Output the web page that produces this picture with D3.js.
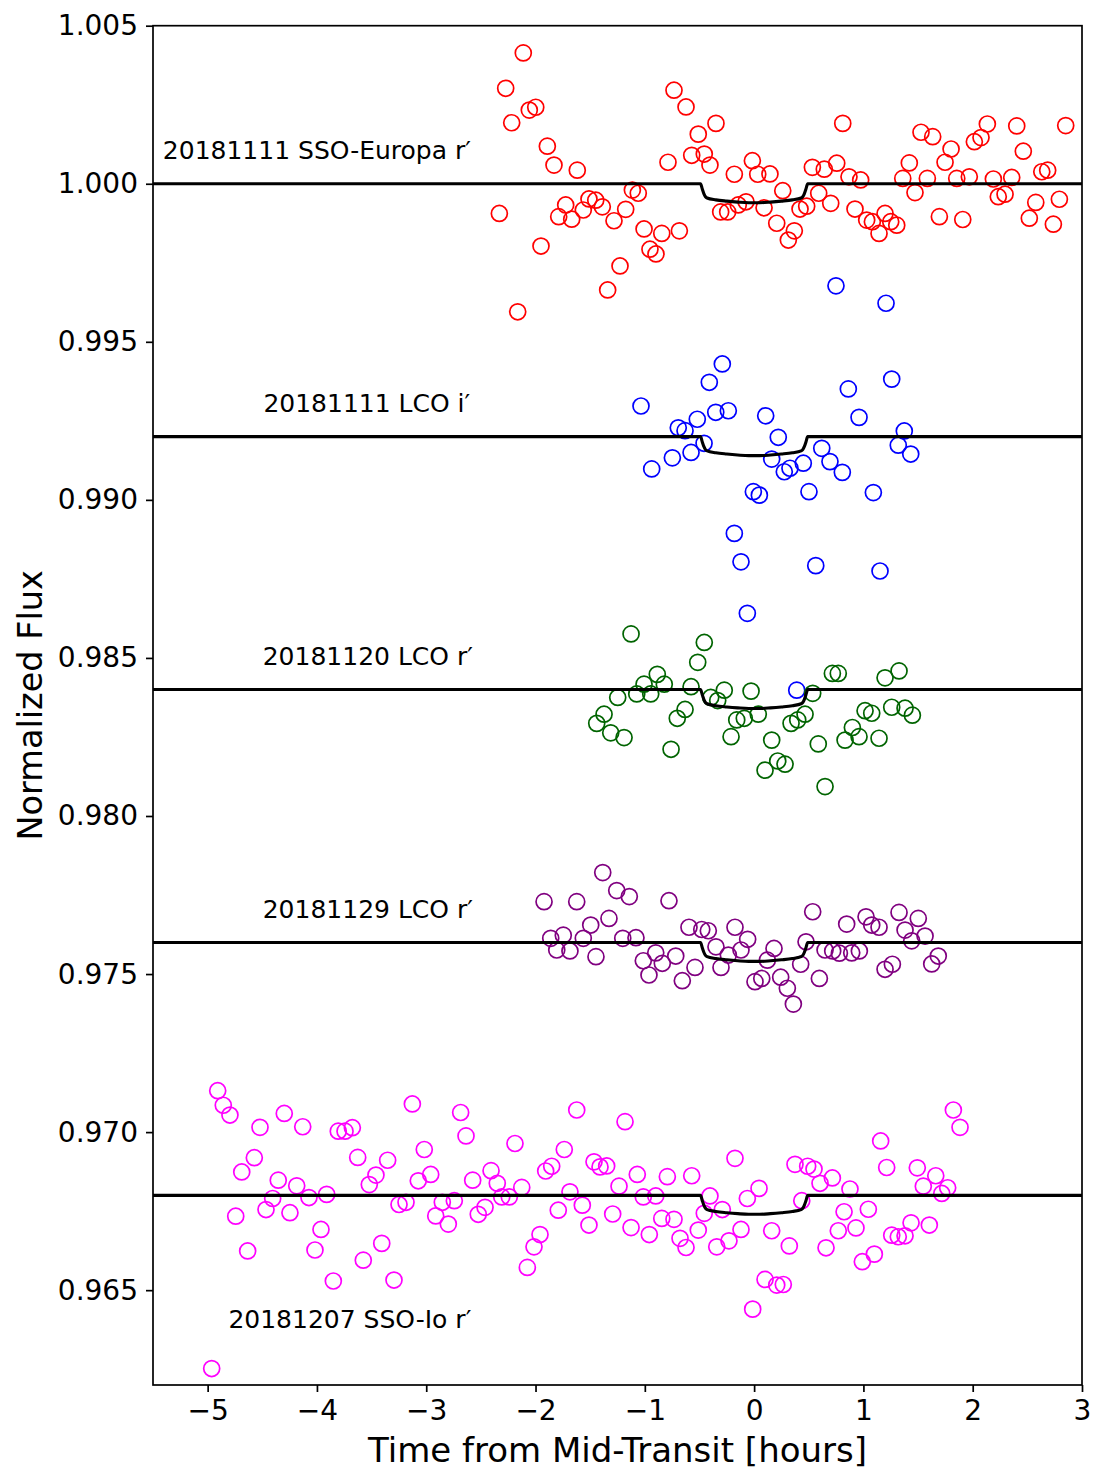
<!DOCTYPE html>
<head>
  <meta charset="utf-8">
  <script src="https://d3js.org/d3.v7.min.js"></script>
  <style>
    body { margin: 0; background: #fff; }
    text { font-family: "DejaVu Sans", sans-serif; fill: #000; }
  </style>
</head>

<body>
  <div id="chart"></div>
  <script>
    // time from mid-transit [h] and normalized flux
    var europaT = [-2.331, -2.273, -2.218, -2.163, -2.112, -2.057, -1.998, -1.950, -1.892, -1.831,
      -1.788, -1.724, -1.669, -1.618, -1.563, -1.511, -1.449, -1.389, -1.340, -1.282,
      -1.227, -1.175, -1.114, -1.060, -1.007, -0.953, -0.898, -0.845, -0.788, -0.733,
      -0.684, -0.623, -0.571, -0.511, -0.456, -0.404, -0.349, -0.306, -0.242, -0.181,
      -0.145, -0.074, -0.016, 0.033, 0.091, 0.145, 0.207, 0.262, 0.313, 0.368,
      0.420, 0.481, 0.533, 0.591, 0.642, 0.701, 0.756, 0.811, 0.868, 0.923,
      0.975, 1.030, 1.082, 1.143, 1.198, 1.250, 1.305, 1.360, 1.420, 1.472,
      1.527, 1.585, 1.634, 1.695, 1.747, 1.802, 1.854, 1.909, 1.969, 2.015,
      2.076, 2.134, 2.189, 2.234, 2.296, 2.357, 2.403, 2.463, 2.518, 2.577,
      2.632, 2.686, 2.738, 2.793, 2.851];
    var europaF = [0.99906, 1.00302, 1.00193, 0.99595, 1.00414, 1.00233, 1.00242, 0.99803, 1.00119, 1.00059,
      0.99896, 0.99933, 0.99888, 1.00043, 0.99917, 0.99952, 0.99948, 0.99927, 0.99664, 0.99883,
      0.99740, 0.99919, 0.99980, 0.99970, 0.99857, 0.99793, 0.99778, 0.99843, 1.00068, 1.00296,
      0.99851, 1.00243, 1.00090, 1.00157, 1.00094, 1.00059, 1.00191, 0.99911, 0.99911, 1.00030,
      0.99933, 0.99943, 1.00073, 1.00030, 0.99924, 1.00031, 0.99875, 0.99978, 0.99822, 0.99851,
      0.99920, 0.99929, 1.00052, 0.99970, 1.00046, 0.99938, 1.00065, 1.00191, 1.00022, 0.99920,
      1.00012, 0.99885, 0.99880, 0.99843, 0.99906, 0.99880, 0.99869, 1.00017, 1.00066, 0.99972,
      1.00163, 1.00017, 1.00149, 0.99896, 1.00068, 1.00110, 1.00017, 0.99887, 1.00022, 1.00133,
      1.00146, 1.00189, 1.00015, 0.99959, 0.99967, 1.00020, 1.00183, 1.00103, 0.99891, 0.99941,
      1.00038, 1.00043, 0.99872, 0.99951, 1.00184];

    var lcoIT = [-1.035, -0.937, -0.748, -0.694, -0.632, -0.577, -0.520, -0.458, -0.410, -0.351,
      -0.291, -0.236, -0.181, -0.120, -0.062, -0.007, 0.048, 0.106, 0.161, 0.221,
      0.276, 0.328, 0.390, 0.450, 0.502, 0.564, 0.619, 0.694, 0.749, 0.807,
      0.862, 0.960, 1.091, 1.152, 1.207, 1.259, 1.319, 1.374, 1.433];
    var lcoIF = [0.99297, 0.99098, 0.99133, 0.99228, 0.99219, 0.99150, 0.99255, 0.99179, 0.99372, 0.99277,
      0.99430, 0.99282, 0.98894, 0.98804, 0.98641, 0.99026, 0.99015, 0.99266, 0.99129, 0.99198,
      0.99089, 0.99100, 0.98398, 0.99116, 0.99026, 0.98792, 0.99163, 0.99121, 0.99677, 0.99087,
      0.99351, 0.99261, 0.99023, 0.98775, 0.99622, 0.99382, 0.99173, 0.99218, 0.99145];

    var lco20T = [-1.440, -1.373, -1.312, -1.248, -1.190, -1.126, -1.074, -1.007, -0.946, -0.886,
      -0.822, -0.760, -0.703, -0.632, -0.577, -0.516, -0.456, -0.397, -0.333, -0.273,
      -0.211, -0.159, -0.090, -0.028, 0.038, 0.100, 0.161, 0.216, 0.283, 0.338,
      0.399, 0.466, 0.536, 0.587, 0.649, 0.716, 0.770, 0.832, 0.899, 0.960,
      1.015, 1.076, 1.143, 1.198, 1.259, 1.326, 1.381, 1.448];
    var lco20F = [0.98293, 0.98322, 0.98263, 0.98375, 0.98248, 0.98576, 0.98386, 0.98417, 0.98386, 0.98448,
      0.98417, 0.98211, 0.98309, 0.98337, 0.98409, 0.98486, 0.98549, 0.98375, 0.98365, 0.98398,
      0.98251, 0.98304, 0.98309, 0.98395, 0.98322, 0.98145, 0.98240, 0.98174, 0.98164, 0.98293,
      0.98304, 0.98322, 0.98388, 0.98228, 0.98093, 0.98451, 0.98451, 0.98240, 0.98280, 0.98251,
      0.98333, 0.98325, 0.98246, 0.98437, 0.98344, 0.98459, 0.98341, 0.98319];

    var lco29T = [-1.922, -1.861, -1.806, -1.746, -1.685, -1.623, -1.563, -1.495, -1.447, -1.385,
      -1.328, -1.257, -1.202, -1.142, -1.081, -1.014, -0.962, -0.900, -0.840, -0.779,
      -0.717, -0.657, -0.596, -0.541, -0.479, -0.419, -0.349, -0.303, -0.236, -0.175,
      -0.120, -0.059, 0.008, 0.070, 0.121, 0.182, 0.243, 0.304, 0.359, 0.426,
      0.475, 0.536, 0.597, 0.649, 0.719, 0.780, 0.847, 0.893, 0.963, 1.024,
      1.076, 1.143, 1.198, 1.265, 1.326, 1.381, 1.442, 1.502, 1.564, 1.625,
      1.685];
    var lco29F = [0.97729, 0.97613, 0.97576, 0.97623, 0.97573, 0.97729, 0.97613, 0.97655, 0.97555, 0.97821,
      0.97676, 0.97764, 0.97613, 0.97745, 0.97615, 0.97542, 0.97497, 0.97567, 0.97534, 0.97732,
      0.97557, 0.97479, 0.97648, 0.97521, 0.97641, 0.97637, 0.97586, 0.97521, 0.97560, 0.97648,
      0.97576, 0.97610, 0.97476, 0.97486, 0.97544, 0.97581, 0.97490, 0.97455, 0.97405, 0.97531,
      0.97602, 0.97697, 0.97486, 0.97576, 0.97573, 0.97566, 0.97658, 0.97567, 0.97573, 0.97681,
      0.97655, 0.97648, 0.97515, 0.97531, 0.97695, 0.97639, 0.97605, 0.97676, 0.97620, 0.97532,
      0.97557];

    var ioT = [-4.963, -4.908, -4.857, -4.796, -4.743, -4.688, -4.634, -4.573, -4.521, -4.466,
      -4.405, -4.354, -4.299, -4.247, -4.185, -4.130, -4.073, -4.018, -3.963, -3.911,
      -3.850, -3.805, -3.743, -3.676, -3.627, -3.576, -3.521, -3.460, -3.407, -3.353,
      -3.295, -3.249, -3.185, -3.127, -3.073, -3.018, -2.959, -2.913, -2.853, -2.798,
      -2.743, -2.685, -2.636, -2.575, -2.524, -2.462, -2.407, -2.350, -2.309, -2.240,
      -2.188, -2.126, -2.075, -2.014, -1.959, -1.907, -1.852, -1.792, -1.737, -1.685,
      -1.623, -1.572, -1.511, -1.465, -1.410, -1.349, -1.294, -1.236, -1.181, -1.126,
      -1.069, -1.014, -0.959, -0.900, -0.845, -0.794, -0.733, -0.678, -0.623, -0.571,
      -0.511, -0.456, -0.404, -0.342, -0.291, -0.230, -0.175, -0.120, -0.062, -0.013,
      0.045, 0.100, 0.161, 0.207, 0.267, 0.322, 0.374, 0.436, 0.490, 0.548,
      0.603, 0.658, 0.716, 0.770, 0.823, 0.877, 0.932, 0.990, 1.045, 1.100,
      1.158, 1.213, 1.259, 1.319, 1.381, 1.436, 1.493, 1.548, 1.603, 1.662,
      1.717, 1.771, 1.823, 1.884];
    var ioF = [0.96252, 0.97131, 0.97085, 0.97054, 0.96734, 0.96874, 0.96624, 0.96919, 0.97015, 0.96755,
      0.96790, 0.96848, 0.97059, 0.96745, 0.96830, 0.97017, 0.96793, 0.96627, 0.96692, 0.96803,
      0.96529, 0.97003, 0.97003, 0.97014, 0.96920, 0.96595, 0.96834, 0.96864, 0.96648, 0.96911,
      0.96532, 0.96771, 0.96778, 0.97089, 0.96846, 0.96945, 0.96866, 0.96735, 0.96778, 0.96709,
      0.96783, 0.97062, 0.96988, 0.96848, 0.96740, 0.96762, 0.96878, 0.96838, 0.96795, 0.96795,
      0.96964, 0.96825, 0.96572, 0.96637, 0.96676, 0.96877, 0.96892, 0.96753, 0.96945, 0.96811,
      0.97070, 0.96769, 0.96706, 0.96906, 0.96890, 0.96893, 0.96741, 0.96829, 0.97033, 0.96698,
      0.96866, 0.96795, 0.96676, 0.96798, 0.96727, 0.96859, 0.96724, 0.96664, 0.96635, 0.96862,
      0.96690, 0.96743, 0.96798, 0.96637, 0.96755, 0.96656, 0.96917, 0.96692, 0.96790, 0.96440,
      0.96822, 0.96534, 0.96688, 0.96516, 0.96518, 0.96640, 0.96898, 0.96783, 0.96892, 0.96883,
      0.96838, 0.96634, 0.96855, 0.96688, 0.96748, 0.96820, 0.96697, 0.96590, 0.96756, 0.96614,
      0.96972, 0.96888, 0.96674, 0.96669, 0.96672, 0.96713, 0.96887, 0.96829, 0.96706, 0.96862,
      0.96806, 0.96824, 0.97070, 0.97015];

    // transit model shape (dip below each baseline)
    var modelT = [-5.5, -0.49, -0.475, -0.46, -0.445, -0.43, -0.35, -0.25, -0.15, -0.05,
      0.05, 0.15, 0.25, 0.35, 0.43, 0.445, 0.46, 0.475, 0.49, 3];
    var modelDip = [0, 0, 0.00016, 0.00031, 0.00041, 0.00045, 0.00051, 0.00055, 0.00058, 0.0006,
      0.0006, 0.00058, 0.00055, 0.00051, 0.00045, 0.00041, 0.00031, 0.00016, 0, 0];

    var baselines = [1.000, 0.992, 0.984, 0.976, 0.968];
    var labels = ["20181111 SSO-Europa r\u2032", "20181111 LCO i\u2032", "20181120 LCO r\u2032",
      "20181129 LCO r\u2032", "20181207 SSO-Io r\u2032"];
    var colors = ["#ff0000", "#0000ff", "#006400", "#800080", "#ff00ff"];

    var xTicks = [-5, -4, -3, -2, -1, 0, 1, 2, 3];
    var yTicks = [0.965, 0.970, 0.975, 0.980, 0.985, 0.990, 0.995, 1.000, 1.005];

    var series = [
      { t: europaT, f: europaF },
      { t: lcoIT, f: lcoIF },
      { t: lco20T, f: lco20F },
      { t: lco29T, f: lco29F },
      { t: ioT, f: ioF }
    ];
    // label anchor (time, flux at text baseline)
    var labelPos = [[-5.41, 1.00078], [-4.49, 0.99279], [-4.496, 0.98478], [-4.496, 0.97678], [-4.81, 0.96381]];

    const width = 1108, height = 1484;
    const margin = { top: 25.7, right: 26, bottom: 99, left: 153 };

    const svg = d3.select('#chart').append('svg')
      .attr('width', width)
      .attr('height', height);

    var x = d3.scaleLinear().domain([-5.5, 3]).range([margin.left, width - margin.right]);
    var y = d3.scaleLinear().domain([0.962, 1.005]).range([height - margin.bottom, margin.top]);

    var line = d3.line()
      .x(d => x(d[0]))
      .y(d => y(d[1]))
      .curve(d3.curveMonotoneX);

    series.forEach(function (s, i) {
      svg.append('g')
        .selectAll('circle')
        .data(d3.zip(s.t, s.f))
        .enter().append('circle')
        .attr('cx', d => x(d[0]))
        .attr('cy', d => y(d[1]))
        .attr('r', 8)
        .attr('fill', 'none')
        .attr('stroke', colors[i])
        .attr('stroke-width', 1.7);

      svg.append('path')
        .datum(modelT.map((t, k) => [t, baselines[i] - modelDip[k]]))
        .attr('fill', 'none')
        .attr('stroke', '#000')
        .attr('stroke-width', 3.1)
        .attr('d', line);

      svg.append('text')
        .attr('x', x(labelPos[i][0]))
        .attr('y', y(labelPos[i][1]))
        .style('font-size', '25px')
        .text(labels[i]);
    });

    // axes
    var xAxis = svg.append('g')
      .attr('transform', 'translate(0,' + (height - margin.bottom) + ')')
      .call(d3.axisBottom(x).tickValues(xTicks).tickSize(7).tickPadding(8)
        .tickFormat(d => d < 0 ? '\u2212' + Math.abs(d) : d));
    var yAxis = svg.append('g')
      .attr('transform', 'translate(' + margin.left + ',0)')
      .call(d3.axisLeft(y).tickValues(yTicks).tickSize(7).tickPadding(8)
        .tickFormat(d3.format('.3f')));
    [xAxis, yAxis].forEach(function (a) {
      a.select('.domain').remove();
      a.selectAll('line').attr('stroke', '#000').attr('stroke-width', 1.7);
      a.selectAll('text').style('font-size', '28px').attr('font-family', null);
    });

    // frame
    svg.append('rect')
      .attr('x', margin.left)
      .attr('y', margin.top)
      .attr('width', width - margin.left - margin.right)
      .attr('height', height - margin.top - margin.bottom)
      .attr('fill', 'none')
      .attr('stroke', '#000')
      .attr('stroke-width', 1.7);

    svg.append('text')
      .attr('x', (margin.left + width - margin.right) / 2)
      .attr('y', 1462)
      .attr('text-anchor', 'middle')
      .style('font-size', '34px')
      .text('Time from Mid-Transit [hours]');

    svg.append('text')
      .attr('transform', 'translate(42,' + (margin.top + (height - margin.bottom - margin.top) / 2) + ') rotate(-90)')
      .attr('text-anchor', 'middle')
      .style('font-size', '33.5px')
      .text('Normalized Flux');
  </script>
</body>

</html>
